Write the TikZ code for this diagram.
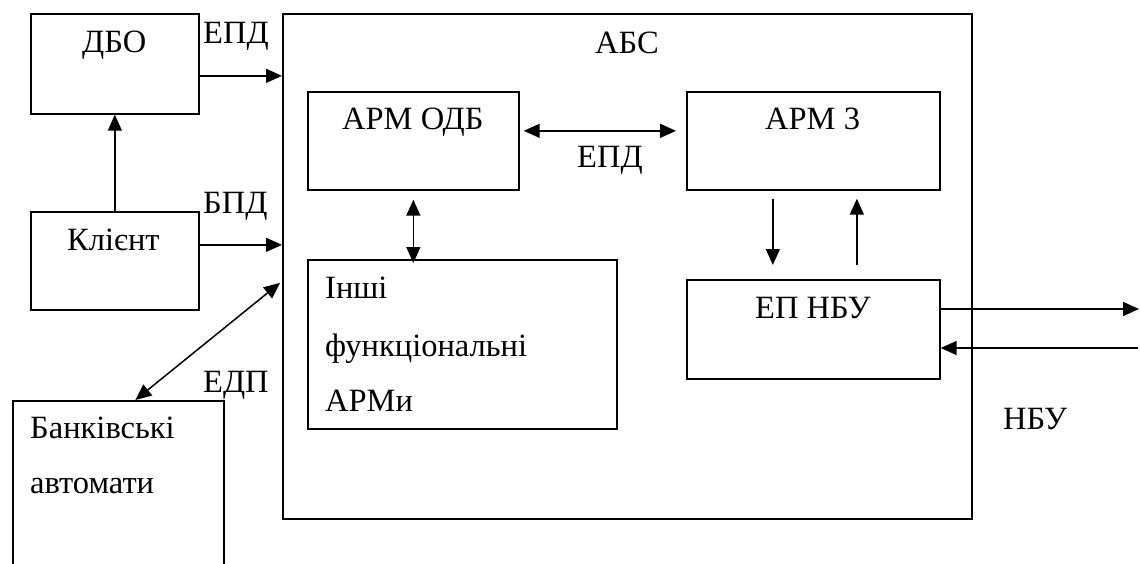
\documentclass[tikz,border=0pt]{standalone}
\usepackage{fontspec}
\setmainfont{Liberation Serif}
\newfontfamily\labelfont{Liberation Serif}
\usetikzlibrary{arrows.meta}

\tikzset{
  box/.style={draw, line width=1.7pt, inner sep=0pt, anchor=north west},
  lbl/.style={anchor=base west, inner sep=0pt},
  tip/.tip={Triangle[length=16pt,width=14pt]},
  arr/.style={line width=1.5pt, -tip},
  biarr/.style={line width=1.5pt, tip-tip}
}

\begin{document}
\begin{tikzpicture}[x=1pt, y=-1pt, font=\labelfont\fontsize{32.5}{38}\selectfont]
\clip (0,0) rectangle (1140,563);

% outer system and external blocks
\node[box, minimum width=168pt, minimum height=100pt] (dbo)    at (30,13)  {};
\node[box, minimum width=168pt, minimum height=98pt]  (client) at (30,211) {};
\node[box, minimum width=211pt, minimum height=200pt] (atm)    at (12,400) {};
\node[box, minimum width=689pt, minimum height=505pt] (abs)    at (282,13) {};

% inner workstations
\node[box, minimum width=211pt, minimum height=98pt]  (odb)   at (307,91)  {};
\node[box, minimum width=253pt, minimum height=98pt]  (arm3)  at (686,91)  {};
\node[box, minimum width=309pt, minimum height=169pt] (other) at (307,259) {};
\node[box, minimum width=253pt, minimum height=99pt]  (ep)    at (686,279) {};

% texts
\node[lbl] (t-dbo)    at (82,52)   {ДБО};
\node[lbl] (t-client) at (67,250)  {Клієнт};
\node[lbl] (t-atm1)   at (30,438)  {Банківські};
\node[lbl] (t-atm2)   at (30,493)  {автомати};
\node[lbl] (t-abs)    at (595,53)  {АБС};
\node[lbl] (t-odb)    at (342,129) {АРМ ОДБ};
\node[lbl] (t-arm3)   at (765,129) {АРМ 3};
\node[lbl] (t-oth1)   at (325,298) {Інші};
\node[lbl] (t-oth2)   at (325,356) {функціональні};
\node[lbl] (t-oth3)   at (325,411) {АРМи};
\node[lbl] (t-ep)     at (755,318) {ЕП НБУ};
\node[lbl] (t-nbu)    at (1003,429) {НБУ};
\node[lbl] (l-epd1)   at (203,43)  {ЕПД};
\node[lbl] (l-bpd)    at (203,213) {БПД};
\node[lbl] (l-edp)    at (203,392) {ЕДП};
\node[lbl] (l-epd2)   at (577,167) {ЕПД};

% connectors on the left
\draw[arr] (client.north) -- (dbo.south);
\coordinate (c-dbo) at ([yshift=-12pt]dbo.east);
\draw[arr] (c-dbo) -- (c-dbo -| abs.west);
\coordinate (c-cl) at ([yshift=16pt]client.east);
\draw[arr] (c-cl) -- (c-cl -| abs.west);
\draw[biarr] ([xshift=17pt]atm.north) -- ([xshift=-2pt,yshift=-16.5pt]abs.west);

% connectors inside the system
\draw[biarr] ([xshift=4pt,yshift=10pt]odb.east) -- ([xshift=-10pt,yshift=10pt]arm3.west);
\coordinate (c-odb) at ([yshift=-9pt]odb.south);
\draw[biarr] (c-odb) -- ([yshift=-4pt]c-odb |- other.north);
\coordinate (c-down) at ([xshift=-40.5pt,yshift=-8pt]arm3.south);
\draw[arr] (c-down) -- ([yshift=14pt]c-down |- ep.north);
\coordinate (c-up) at ([xshift=43.5pt,yshift=14pt]ep.north);
\draw[arr] (c-up) -- ([yshift=-8pt]c-up |- arm3.south);

% link to the national bank
\coordinate (nbu-out) at (1139,309);
\coordinate (nbu-in)  at (1138,348);
\draw[arr] (ep.east |- nbu-out) -- (nbu-out);
\draw[arr] (nbu-in) -- (ep.east |- nbu-in);
\end{tikzpicture}
\end{document}
